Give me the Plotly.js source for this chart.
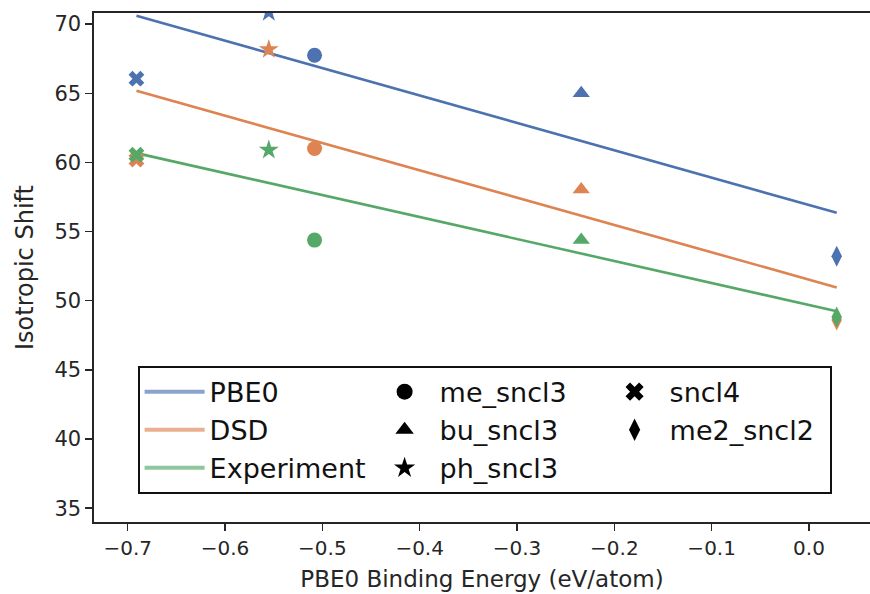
<!DOCTYPE html>
<html>
<head>
<meta charset="utf-8">
<script src="https://cdn.plot.ly/plotly-3.0.1.min.js"></script>
<style>
  html, body { margin: 0; padding: 0; background: #fff; overflow: hidden; }
  #chart { width: 870px; height: 594px; }
</style>
</head>
<body>
<div id="chart"></div>
<script>
// ---- data ----
const methods = ['PBE0', 'DSD', 'Experiment'];
const methodColors = ['#4c72b0', '#dd8452', '#55a868'];
const compounds = ['me_sncl3', 'bu_sncl3', 'ph_sncl3', 'sncl4', 'me2_sncl2'];
const compoundSymbols = ['circle', 'triangle-up', 'star', 'x', 'diamond-tall'];
const bindingEnergy = [-0.508, -0.234, -0.555, -0.691, 0.0285];
const pbe0Shift = [67.75, 65.0, 70.85, 66.05, 53.22];
const dsdShift = [61.0, 58.04, 68.17, 60.2, 48.6];
const expShift = [54.38, 54.38, 60.89, 60.55, 48.83];
// fitted trend lines (end points)
const fitX = [-0.691, 0.0285];
const pbe0Fit = [70.6, 56.35];
const dsdFit = [65.17, 50.96];
const expFit = [60.67, 49.24];
// legend order (row-major, 3 columns)
const legendOrder = ['PBE0', 'me_sncl3', 'sncl4', 'DSD', 'bu_sncl3', 'me2_sncl2', 'Experiment', 'ph_sncl3'];

const shifts = [pbe0Shift, dsdShift, expShift];
const fits = [pbe0Fit, dsdFit, expFit];
const FONT = 'DejaVu Sans, sans-serif';
const INK = '#262626';

const traces = [];
// trend lines
methods.forEach((m, i) => {
  traces.push({
    x: fitX, y: fits[i], mode: 'lines', name: m, showlegend: false,
    line: { color: methodColors[i], width: 2.6 },
    hoverinfo: 'skip'
  });
});
// data points: colour by method, symbol by compound
methods.forEach((m, i) => {
  traces.push({
    x: bindingEnergy, y: shifts[i], mode: 'markers', showlegend: false,
    marker: {
      color: methodColors[i],
      opacity: 1,
      symbol: compounds.map((c, k) => compoundSymbols[k]),
      size: compounds.map(c => c === 'sncl4' ? 14 : 15),
      line: { width: 0 }
    },
    hoverinfo: 'skip'
  });
});
// legend entries for methods (lighter line handles)
methods.forEach((m, i) => {
  traces.push({
    x: [null], y: [null], mode: 'lines', name: m,
    line: { color: methodColors[i], width: 4 },
    opacity: 0.65,
    legendrank: legendOrder.indexOf(m) + 1,
    hoverinfo: 'skip'
  });
});
// legend entries for compounds (black markers)
compounds.forEach((c, k) => {
  traces.push({
    x: [null], y: [null], mode: 'markers', name: c,
    marker: { color: '#000', symbol: compoundSymbols[k], size: 18, opacity: 1 },
    legendrank: legendOrder.indexOf(c) + 1,
    hoverinfo: 'skip'
  });
});

const layout = {
  width: 870, height: 594,
  margin: { l: 94, r: 0, t: 13, b: 72, pad: 0 },
  paper_bgcolor: '#fff', plot_bgcolor: '#fff',
  font: { family: FONT, color: INK, size: 20 },
  showlegend: true,
  xaxis: {
    range: [-0.7346, 0.0627],
    tickvals: [-0.7, -0.6, -0.5, -0.4, -0.3, -0.2, -0.1, 0.0],
    tickformat: '.1f',
    showgrid: false, zeroline: false,
    showline: true, linecolor: INK, linewidth: 1.6, mirror: true,
    ticks: 'outside', ticklen: 7, tickwidth: 1.4, tickcolor: INK,
    tickfont: { family: FONT, size: 20, color: INK },
    title: { text: 'PBE0 Binding Energy (eV/atom)', font: { family: FONT, size: 23, color: INK }, standoff: 12 }
  },
  yaxis: {
    range: [34.0, 70.8],
    tick0: 35, dtick: 5,
    showgrid: false, zeroline: false,
    showline: true, linecolor: INK, linewidth: 1.6, mirror: false,
    ticks: 'outside', ticklen: 7, tickwidth: 1.4, tickcolor: INK,
    tickfont: { family: FONT, size: 21, color: INK },
    title: { text: 'Isotropic Shift', font: { family: FONT, size: 24, color: INK }, standoff: 14 }
  },
  legend: {
    orientation: 'h',
    x: 0.0567, xanchor: 'left',
    y: 0.3065, yanchor: 'top',
    itemwidth: 60,
    entrywidth: 155, entrywidthmode: 'pixels',
    bgcolor: '#fff', bordercolor: '#111', borderwidth: 1.6,
    font: { family: FONT, size: 27, color: '#111' },
    traceorder: 'normal',
    itemsizing: 'trace'
  }
};

Plotly.newPlot('chart', traces, layout, { staticPlot: true, displayModeBar: false });
</script>
</body>
</html>
